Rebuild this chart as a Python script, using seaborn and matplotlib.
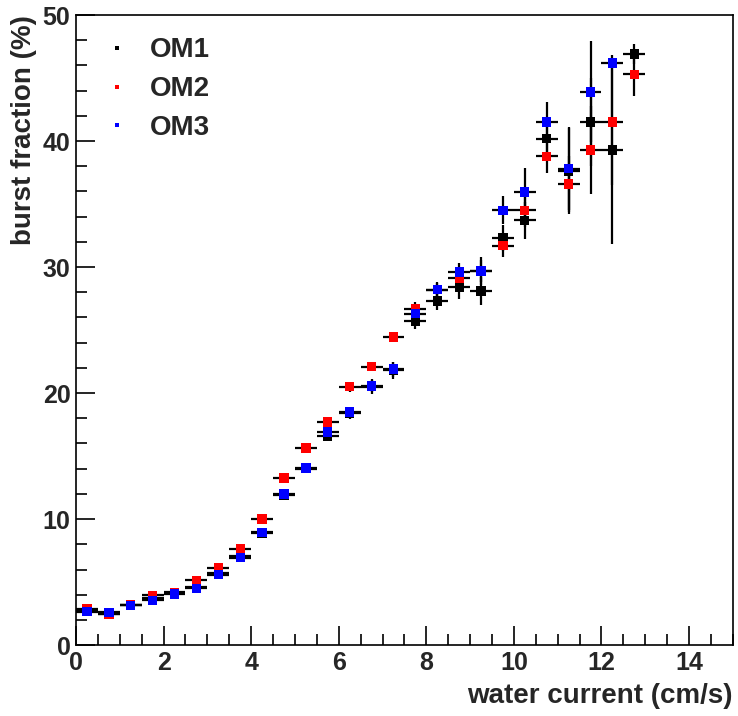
import numpy as np
import pandas as pd
import matplotlib
matplotlib.use('Agg')
import matplotlib.pyplot as plt
from matplotlib.ticker import MultipleLocator
import seaborn as sns

sns.set_theme(style='white')
plt.rcParams['font.family'] = ['Liberation Sans', 'DejaVu Sans']
plt.rcParams['font.weight'] = 'bold'

# bin centres (cm/s), bin half width 0.25
current = [0.25, 0.75, 1.25, 1.75, 2.25, 2.75, 3.25, 3.75, 4.25, 4.75,
           5.25, 5.75, 6.25, 6.75, 7.25, 7.75, 8.25, 8.75, 9.25, 9.75,
           10.25, 10.75, 11.25, 11.75, 12.25, 12.75]
half_width = 0.25

om1 = [2.75, 2.45, 3.15, 3.7, 4.1, 4.6, 5.7, 7.05, 8.9, 11.9,
       14.0, 16.6, 18.4, 20.5, 21.8, 25.7, 27.3, 28.4, 28.1, 32.3,
       33.7, 40.2, 37.6, 41.5, 39.3, 46.9]
om1_err = [0.25, 0.25, 0.25, 0.25, 0.25, 0.3, 0.3, 0.3, 0.35, 0.35,
           0.35, 0.4, 0.45, 0.6, 0.7, 0.6, 0.7, 0.9, 1.1, 1.0,
           1.5, 1.5, 3.4, 3.5, 7.5, 0.8]

om2 = [2.9, 2.45, 3.2, 3.95, 4.2, 5.15, 6.15, 7.65, 10.0, 13.25,
       15.65, 17.7, 20.5, 22.1, 24.45, 26.7, 28.2, 29.1, 29.7, 31.7,
       34.5, 38.8, 36.6, 39.3, 41.5, 45.3]
om2_err = [0.2, 0.2, 0.2, 0.25, 0.25, 0.25, 0.3, 0.3, 0.3, 0.35,
           0.35, 0.35, 0.4, 0.35, 0.4, 0.5, 0.6, 0.7, 0.9, 0.9,
           1.3, 1.3, 2.2, 3.5, 5.0, 1.7]

om3 = [2.65, 2.6, 3.15, 3.55, 4.05, 4.5, 5.6, 6.95, 8.95, 12.0,
       14.05, 16.9, 18.5, 20.55, 21.9, 26.3, 28.2, 29.6, 29.7, 34.5,
       35.95, 41.5, 37.8, 43.9, 46.2, np.nan]
om3_err = [0.2, 0.2, 0.2, 0.2, 0.25, 0.25, 0.3, 0.3, 0.3, 0.35,
           0.35, 0.4, 0.4, 0.5, 0.6, 0.6, 0.5, 0.7, 1.1, 1.1,
           1.9, 1.6, 3.3, 4.0, 0.4, np.nan]

series = {'OM1': (om1, om1_err), 'OM2': (om2, om2_err), 'OM3': (om3, om3_err)}
colors = {'OM1': 'black', 'OM2': 'red', 'OM3': 'blue'}

frames = []
for name, (vals, errs) in series.items():
    frames.append(pd.DataFrame({'current': current, 'fraction': vals,
                                'err': errs, 'sensor': name}))
df = pd.concat(frames, ignore_index=True).dropna()

fig = plt.figure(figsize=(7.38, 7.16), dpi=100)
ax = fig.add_axes([0.103, 0.099, 0.890, 0.880])

# error bars (drawn black, as in the original)
for name in series:
    sub = df[df['sensor'] == name]
    ax.errorbar(sub['current'], sub['fraction'], xerr=half_width, yerr=sub['err'],
                fmt='none', ecolor='black', elinewidth=1.6, capsize=0, zorder=2)

sns.scatterplot(data=df, x='current', y='fraction', hue='sensor', palette=colors,
                marker='s', s=45, linewidth=0, ax=ax, zorder=3)

handles, labels = ax.get_legend_handles_labels()
ax.legend(handles, labels, loc='upper left', bbox_to_anchor=(0.02, 0.982),
          borderaxespad=0, frameon=False, markerscale=0.45, handlelength=1.2,
          handletextpad=0.6, labelspacing=0.46,
          prop={'size': 20, 'weight': 'bold'})

ax.set_xlim(0, 15)
ax.set_ylim(0, 50)
ax.xaxis.set_major_locator(MultipleLocator(2))
ax.xaxis.set_minor_locator(MultipleLocator(0.5))
ax.yaxis.set_major_locator(MultipleLocator(10))
ax.yaxis.set_minor_locator(MultipleLocator(2))
ax.tick_params(which='both', direction='in', top=False, right=False,
               bottom=True, left=True, color='black', width=1.2)
ax.tick_params(which='major', length=14, labelsize=18, pad=4)
ax.tick_params(which='minor', length=8)
for lab in ax.get_xticklabels() + ax.get_yticklabels():
    lab.set_fontweight('bold')
for sp in ax.spines.values():
    sp.set_color('black')
    sp.set_linewidth(1.2)

ax.set_xlabel('water current (cm/s)', fontsize=20, fontweight='bold', ha='right')
ax.set_ylabel('burst fraction (%)', fontsize=20, fontweight='bold', ha='right')
ax.xaxis.set_label_coords(1.0, -0.06)
ax.yaxis.set_label_coords(-0.06, 1.0)

fig.savefig('out.png', dpi=100)
